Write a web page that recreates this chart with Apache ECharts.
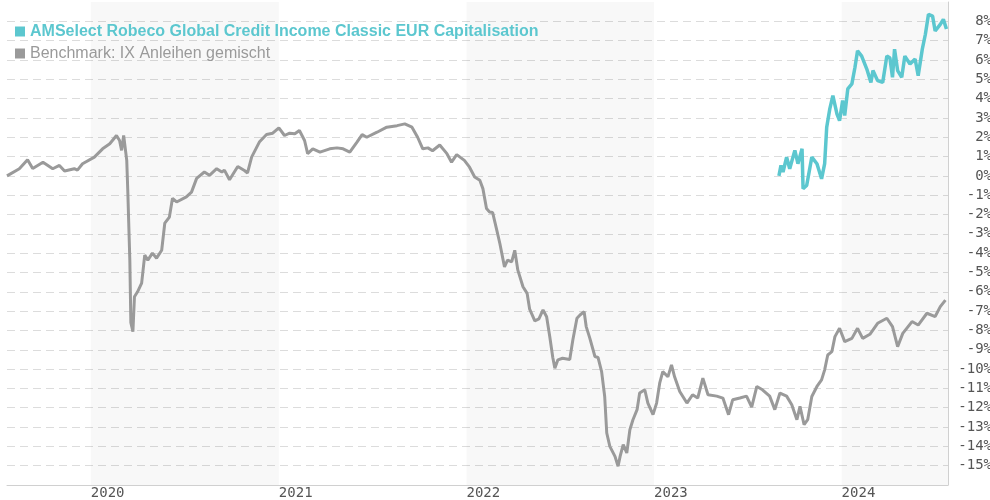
<!DOCTYPE html>
<html>
<head>
<meta charset="utf-8">
<title>AMSelect Robeco Global Credit Income</title>
<script src="https://cdn.jsdelivr.net/npm/echarts@6/dist/echarts.min.js"></script>
<style>
  html, body { margin: 0; padding: 0; background: #fff; }
  #chart { width: 990px; height: 500px; }
</style>
</head>
<body>
<div id="chart"></div>
<script>
// Performance in %
const fundName = 'AMSelect Robeco Global Credit Income Classic EUR Capitalisation';
const benchName = 'Benchmark: IX Anleihen gemischt';

const benchDates = [
  '2019-07-22','2019-08-15','2019-08-31','2019-09-10','2019-09-30','2019-10-19','2019-11-01','2019-11-11',
  '2019-11-30','2019-12-06','2019-12-16','2020-01-08','2020-01-24','2020-02-07','2020-02-20','2020-02-26',
  '2020-03-01','2020-03-05','2020-03-11','2020-03-13','2020-03-17','2020-03-19','2020-03-23','2020-03-26',
  '2020-04-01','2020-04-09','2020-04-15','2020-04-21','2020-04-30','2020-05-08','2020-05-18','2020-05-24',
  '2020-06-02','2020-06-08','2020-06-16','2020-07-05','2020-07-15','2020-07-25','2020-08-09','2020-08-19',
  '2020-09-02','2020-09-12','2020-09-17','2020-09-27','2020-10-13','2020-10-26','2020-11-01','2020-11-09',
  '2020-11-24','2020-12-08','2020-12-20','2021-01-01','2021-01-12','2021-01-22','2021-02-01','2021-02-10',
  '2021-02-20','2021-02-26','2021-03-08','2021-03-22','2021-04-10','2021-04-24','2021-05-06','2021-05-19',
  '2021-06-02','2021-06-12','2021-06-21','2021-07-11','2021-07-30','2021-08-19','2021-09-03','2021-09-17',
  '2021-09-28','2021-10-08','2021-10-18','2021-10-27','2021-11-10','2021-11-24','2021-12-03','2021-12-13',
  '2021-12-28','2022-01-07','2022-01-17','2022-01-27','2022-02-02','2022-02-09','2022-02-15','2022-02-21',
  '2022-03-01','2022-03-07','2022-03-16','2022-03-22','2022-03-30','2022-04-05','2022-04-11','2022-04-21',
  '2022-04-29','2022-05-04','2022-05-14','2022-05-22','2022-05-30','2022-06-06','2022-06-12','2022-06-18',
  '2022-06-22','2022-06-28','2022-07-07','2022-07-21','2022-07-27','2022-08-04','2022-08-10','2022-08-18',
  '2022-08-22','2022-08-29','2022-09-08','2022-09-14','2022-09-21','2022-09-27','2022-10-01','2022-10-07',
  '2022-10-17','2022-10-23','2022-10-27','2022-11-02','2022-11-09','2022-11-15','2022-11-21','2022-11-29',
  '2022-12-04','2022-12-14','2022-12-20','2022-12-30','2023-01-06','2023-01-12','2023-01-18','2023-01-28',
  '2023-02-04','2023-02-10','2023-02-20','2023-03-06','2023-03-17','2023-03-27','2023-04-06','2023-04-16',
  '2023-05-03','2023-05-15','2023-05-26','2023-06-03','2023-06-17','2023-06-30','2023-07-10','2023-07-20',
  '2023-07-31','2023-08-14','2023-08-24','2023-09-03','2023-09-16','2023-09-26','2023-10-06','2023-10-12',
  '2023-10-20','2023-10-27','2023-11-04','2023-11-14','2023-11-23','2023-11-29','2023-12-05','2023-12-13',
  '2023-12-19','2023-12-28','2024-01-07','2024-01-21','2024-02-01','2024-02-11','2024-02-25','2024-03-11',
  '2024-03-29','2024-04-09','2024-04-19','2024-04-29','2024-05-17','2024-05-29','2024-06-15','2024-07-01',
  '2024-07-11','2024-07-21'
];
const benchValues = [
  0.0, 0.37, 0.84, 0.38, 0.71, 0.37, 0.54, 0.25,
  0.37, 0.3, 0.63, 0.97, 1.4, 1.66, 2.09, 1.83,
  1.32, 2.09, 0.8, -0.75, -4.36, -7.6, -8.06, -6.26,
  -6.0, -5.55, -4.1, -4.36, -4.0, -4.26, -3.85, -2.45,
  -2.13, -1.16, -1.35, -1.09, -0.84, -0.13, 0.2, 0.03,
  0.37, 0.2, 0.3, -0.2, 0.49, 0.28, 0.15, 0.97,
  1.75, 2.14, 2.21, 2.49, 2.09, 2.21, 2.18, 2.35,
  1.83, 1.15, 1.4, 1.23, 1.4, 1.45, 1.4, 1.23,
  1.75, 2.14, 2.0, 2.26, 2.52, 2.6, 2.69, 2.52,
  2.0, 1.4, 1.45, 1.3, 1.6, 1.15, 0.71, 1.1,
  0.8, 0.45, -0.06, -0.23, -0.66, -1.69, -1.87, -1.9,
  -2.81, -3.5, -4.71, -4.36, -4.45, -3.85, -4.88, -5.74,
  -6.08, -6.9, -7.5, -7.4, -6.94, -7.29, -8.3, -9.4,
  -9.95, -9.52, -9.44, -9.5, -8.49, -7.37, -7.2, -7.03,
  -7.8, -8.4, -9.35, -9.4, -10.13, -11.42, -13.31, -14.0,
  -14.52, -15.03, -14.52, -13.91, -14.34, -13.14, -12.62, -12.1,
  -11.24, -11.07, -11.76, -12.36, -11.76, -10.73, -10.13, -10.4,
  -9.78, -10.4, -11.16, -11.76, -11.33, -11.5, -10.47, -11.33,
  -11.4, -11.5, -12.36, -11.59, -11.5, -11.4, -11.97, -10.9,
  -11.07, -11.4, -12.1, -11.24, -11.4, -11.85, -12.62, -11.93,
  -12.88, -12.62, -11.42, -10.9, -10.56, -10.04, -9.27, -9.1,
  -8.32, -7.89, -8.58, -8.41, -7.89, -8.41, -8.2, -7.63,
  -7.37, -7.8, -8.84, -8.15, -7.54, -7.72, -7.11, -7.28,
  -6.77, -6.43
];

const fundDates = [
  '2023-09-01','2023-09-05','2023-09-09','2023-09-16','2023-09-22','2023-10-02','2023-10-08','2023-10-16',
  '2023-10-18','2023-10-25','2023-11-04','2023-11-14','2023-11-23','2023-11-29','2023-12-03','2023-12-09',
  '2023-12-15','2023-12-23','2023-12-28','2024-01-03','2024-01-07','2024-01-13','2024-01-21','2024-01-27',
  '2024-02-01','2024-02-09','2024-02-19','2024-02-27','2024-03-02','2024-03-11','2024-03-21','2024-03-29',
  '2024-04-04','2024-04-09','2024-04-13','2024-04-19','2024-04-27','2024-05-03','2024-05-13','2024-05-23',
  '2024-05-29','2024-06-06','2024-06-12','2024-06-18','2024-06-26','2024-07-01','2024-07-11','2024-07-17',
  '2024-07-23'
];
const fundValues = [
  0.0, 0.54, 0.2, 0.97, 0.37, 1.32, 0.63, 1.4,
  -0.66, -0.5, 0.97, 0.63, -0.15, 0.63, 2.52, 3.47,
  4.15, 3.2, 2.86, 3.9, 3.12, 4.5, 4.76, 5.62,
  6.48, 6.2, 5.53, 4.84, 5.45, 4.93, 4.84, 6.21,
  6.1, 5.1, 6.56, 5.45, 5.1, 6.2, 5.79, 6.05,
  5.19, 6.56, 7.33, 8.36, 8.27, 7.5, 7.84, 8.1,
  7.6
];

const yearTicks = ['2020-01-01', '2021-01-01', '2022-01-01', '2023-01-01', '2024-01-01'];
// shaded calendar years
const bands = [
  ['2020-01-01', '2021-01-01'],
  ['2022-01-01', '2023-01-01'],
  ['2024-01-01', '2024-07-26']
];
const xStart = '2019-07-22';
const xEnd = '2024-07-26';

const fundColor = '#5cc7cf';
const benchColor = '#9a9a9a';

const chart = echarts.init(document.getElementById('chart'));

const toTs = (s) => +new Date(s + 'T00:00:00');

const option = {
  animation: false,
  legend: {
    orient: 'vertical',
    left: 10,
    top: 18,
    itemWidth: 10,
    itemHeight: 10,
    itemGap: 5,
    icon: 'rect',
    selectedMode: false,
    textStyle: { fontFamily: 'Liberation Sans, Arial, sans-serif', fontSize: 16, lineHeight: 17 },
    data: [
      { name: fundName, textStyle: { color: fundColor, fontWeight: 'bold' } },
      { name: benchName, textStyle: { color: benchColor } }
    ]
  },
  // labels may run past the canvas edge, like in the original
  grid: { left: 7, right: 42, top: 2, bottom: 15, outerBoundsMode: 'none', containLabel: false },
  xAxis: {
    type: 'value',
    min: toTs(xStart),
    max: toTs(xEnd),
    axisLine: { show: true, onZero: false, lineStyle: { color: '#d0d0d0', width: 1 } },
    axisTick: { show: false },
    splitLine: { show: false },
    axisLabel: {
      customValues: yearTicks.map(toTs),
      formatter: (v) => String(new Date(v).getFullYear()),
      align: 'left',
      margin: 1,
      color: '#555',
      fontFamily: 'DejaVu Sans Mono, monospace',
      fontSize: 14
    }
  },
  yAxis: {
    type: 'value',
    position: 'right',
    min: -16,
    max: 9,
    interval: 1,
    axisLine: { show: true, lineStyle: { color: '#d0d0d0', width: 1 } },
    axisTick: { show: false },
    splitLine: {
      show: true,
      showMinLine: false,
      showMaxLine: false,
      lineStyle: { color: '#dcdcdc', type: [8, 5], width: 1 }
    },
    axisLabel: {
      formatter: (v) => (v <= -16 || v >= 9) ? '' : v + '%',
      align: 'right',
      margin: 44,
      color: '#555',
      fontFamily: 'DejaVu Sans Mono, monospace',
      fontSize: 14
    }
  },
  series: [
    {
      name: fundName,
      type: 'line',
      data: fundDates.map((d, i) => [toTs(d), fundValues[i]]),
      showSymbol: false,
      lineStyle: { color: fundColor, width: 3.5 },
      itemStyle: { color: fundColor },
      z: 3
    },
    {
      name: benchName,
      type: 'line',
      data: benchDates.map((d, i) => [toTs(d), benchValues[i]]),
      showSymbol: false,
      lineStyle: { color: benchColor, width: 3 },
      itemStyle: { color: benchColor },
      markArea: {
        silent: true,
        itemStyle: { color: 'rgba(0,0,0,0.028)' },
        data: bands.map((b) => [{ xAxis: toTs(b[0]) }, { xAxis: toTs(b[1]) }])
      }
    }
  ]
};

chart.setOption(option);
window.addEventListener('resize', () => chart.resize());
</script>
</body>
</html>
